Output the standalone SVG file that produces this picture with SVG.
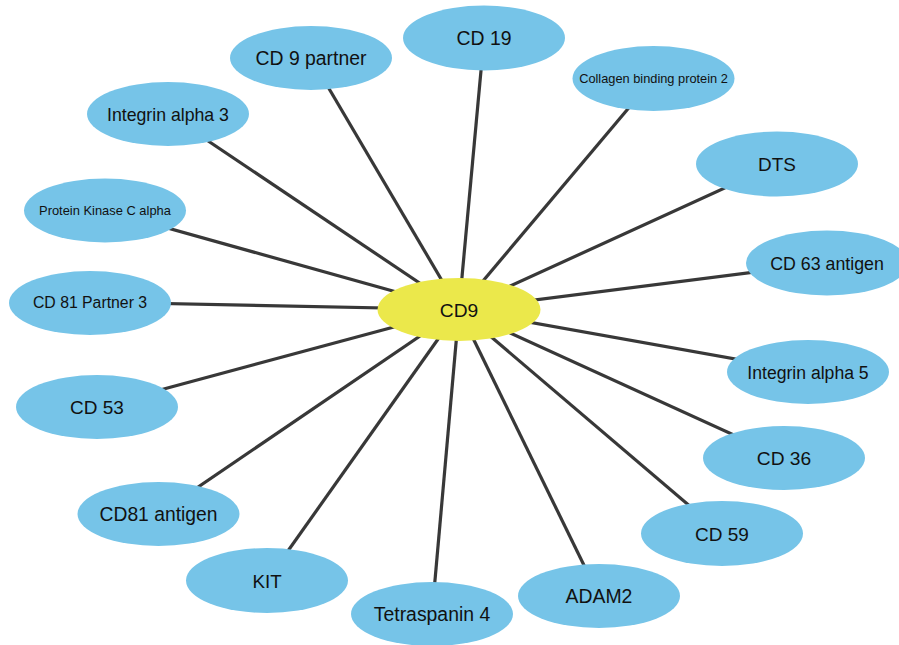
<svg xmlns="http://www.w3.org/2000/svg" width="899" height="645" viewBox="0 0 899 645">
<style>
.edge{stroke:#383838;stroke-width:3.2;fill:none}
.n ellipse{fill:#76c4e8}
.hub ellipse{fill:#ebe84b}
text{font-family:"Liberation Sans",Arial,sans-serif;fill:#111;text-anchor:middle}
</style>
<rect width="899" height="645" fill="#ffffff"/>
<g id="edges">
<line class="edge" x1="459" y1="309.5" x2="484" y2="38"/>
<line class="edge" x1="459" y1="309.5" x2="311" y2="58"/>
<line class="edge" x1="459" y1="309.5" x2="653.5" y2="78.5"/>
<line class="edge" x1="459" y1="309.5" x2="168" y2="114"/>
<line class="edge" x1="459" y1="309.5" x2="777" y2="164"/>
<line class="edge" x1="459" y1="309.5" x2="105" y2="210.5"/>
<line class="edge" x1="459" y1="309.5" x2="827" y2="263"/>
<line class="edge" x1="459" y1="309.5" x2="90" y2="302"/>
<line class="edge" x1="459" y1="309.5" x2="808" y2="372"/>
<line class="edge" x1="459" y1="309.5" x2="97" y2="407"/>
<line class="edge" x1="459" y1="309.5" x2="784" y2="458"/>
<line class="edge" x1="459" y1="309.5" x2="158.5" y2="514"/>
<line class="edge" x1="459" y1="309.5" x2="722" y2="533.5"/>
<line class="edge" x1="459" y1="309.5" x2="267" y2="580.5"/>
<line class="edge" x1="459" y1="309.5" x2="599" y2="596"/>
<line class="edge" x1="459" y1="309.5" x2="432" y2="614"/>
</g>
<g id="cd19" class="n"><ellipse cx="484" cy="38" rx="81" ry="32.5"/><text x="484" y="45" font-size="19.4">CD 19</text></g>
<g id="cd9partner" class="n"><ellipse cx="311" cy="58" rx="81" ry="32"/><text x="311" y="65" font-size="19.4">CD 9 partner</text></g>
<g id="collagen" class="n"><ellipse cx="653.5" cy="78.5" rx="81" ry="32.5"/><text x="653.5" y="83" font-size="12.8">Collagen binding protein 2</text></g>
<g id="integrin3" class="n"><ellipse cx="168" cy="114" rx="81" ry="32"/><text x="168" y="120.5" font-size="17.7">Integrin alpha 3</text></g>
<g id="dts" class="n"><ellipse cx="777" cy="164" rx="81" ry="32.5"/><text x="777" y="171" font-size="18.9">DTS</text></g>
<g id="pkca" class="n"><ellipse cx="105" cy="210.5" rx="81" ry="32"/><text x="105" y="215" font-size="12.9">Protein Kinase C alpha</text></g>
<g id="cd63" class="n"><ellipse cx="827" cy="263" rx="81" ry="32.5"/><text x="827" y="269.5" font-size="17.8">CD 63 antigen</text></g>
<g id="cd81p3" class="n"><ellipse cx="90" cy="303" rx="81" ry="32"/><text x="90" y="308" font-size="15.8">CD 81 Partner 3</text></g>
<g id="cd9" class="hub"><ellipse cx="459" cy="309.5" rx="81.5" ry="31.5"/><text x="459" y="316.5" font-size="19.2">CD9</text></g>
<g id="integrin5" class="n"><ellipse cx="808" cy="372" rx="81" ry="32"/><text x="808" y="378.5" font-size="17.6">Integrin alpha 5</text></g>
<g id="cd53" class="n"><ellipse cx="97" cy="407" rx="81" ry="32"/><text x="97" y="414" font-size="19">CD 53</text></g>
<g id="cd36" class="n"><ellipse cx="784" cy="458" rx="81" ry="32"/><text x="784" y="465" font-size="19.2">CD 36</text></g>
<g id="cd81antigen" class="n"><ellipse cx="158.5" cy="514" rx="81" ry="32"/><text x="158.5" y="521" font-size="19.3">CD81 antigen</text></g>
<g id="cd59" class="n"><ellipse cx="722" cy="533.5" rx="81" ry="32.5"/><text x="722" y="540.5" font-size="19">CD 59</text></g>
<g id="kit" class="n"><ellipse cx="267" cy="580.5" rx="81" ry="32.5"/><text x="267" y="587.5" font-size="18.8">KIT</text></g>
<g id="adam2" class="n"><ellipse cx="599" cy="596" rx="81" ry="32"/><text x="599" y="603" font-size="19.4">ADAM2</text></g>
<g id="tspan4" class="n"><ellipse cx="432" cy="614" rx="81" ry="32"/><text x="432" y="621" font-size="19.4">Tetraspanin 4</text></g>
</svg>
